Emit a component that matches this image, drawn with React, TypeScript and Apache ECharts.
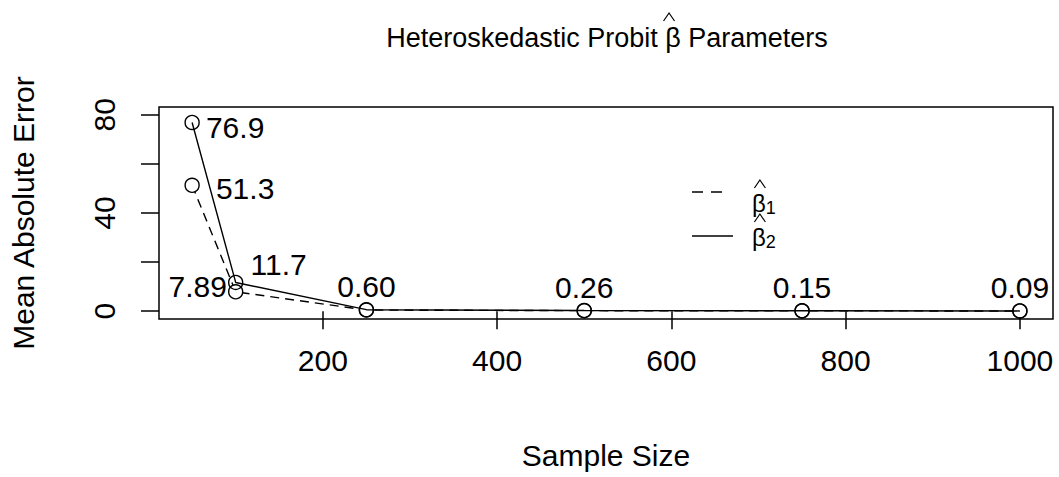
import React, { useEffect, useRef } from "react";
import * as echarts from "echarts";

const sampleSizes = [50, 100, 250, 500, 750, 1000];
const beta1Values = [51.3, 7.89, 0.45, 0.2, 0.12, 0.07];
const beta2Values = [76.9, 11.7, 0.6, 0.26, 0.15, 0.09];
const beta2Labels = ["76.9", "11.7", "0.60", "0.26", "0.15", "0.09"];
const beta1Labels = ["51.3", "7.89", "", "", "", ""];
const xTicks = [200, 400, 600, 800, 1000];
const yTicks = [0, 20, 40, 60, 80];
const yTickLabels = [0, 40, 80];

const FONT = "Liberation Sans";
const TITLE_PREFIX = "Heteroskedastic Probit ";
const TITLE_BETA = "\u03b2";
const TITLE_SUFFIX = " Parameters";
const TITLE_SIZE = 27;

function measure(text: string, font: string): number {
  const c = document.createElement("canvas").getContext("2d");
  if (!c) return text.length * 12;
  c.font = font;
  return c.measureText(text).width;
}

function hat(cx: number, cy: number, w: number, h: number) {
  return {
    type: "polyline",
    shape: { points: [[cx - w / 2, cy + h / 2], [cx, cy - h / 2], [cx + w / 2, cy + h / 2]] },
    style: { stroke: "#000", lineWidth: 1.2, fill: null },
  };
}

export default function App() {
  const ref = useRef<HTMLDivElement>(null);
  useEffect(() => {
    if (!ref.current) return;
    const chart = echarts.init(ref.current, null, { renderer: "svg" });
    const b2Offsets: Record<number, [number, number]> = {
      0: [43, 5],
      1: [43, -18],
    };
    const b1Offsets: Record<number, [number, number]> = {
      0: [53, 3],
      1: [-38, -5],
    };
    const gridLeft = 157, gridTop = 107, gridRight = 1053, gridBottom = 319;
    const titleFont = `${TITLE_SIZE}px "${FONT}"`;
    const titleCenter = (gridLeft + gridRight) / 2 - 3;
    const fullW = measure(TITLE_PREFIX + TITLE_BETA + TITLE_SUFFIX, titleFont);
    const preW = measure(TITLE_PREFIX, titleFont);
    const betaW = measure(TITLE_BETA, titleFont);
    const titleBetaX = titleCenter - fullW / 2 + preW + betaW / 2 + 1;
    const legBetaW = measure("\u03b2", `24px "${FONT}"`);
    chart.setOption({
      animation: false,
      textStyle: { fontFamily: FONT, color: "#000" },
      title: {
        text: TITLE_PREFIX + TITLE_BETA + TITLE_SUFFIX,
        left: titleCenter,
        top: 19,
        textAlign: "center",
        textStyle: { fontFamily: FONT, fontSize: TITLE_SIZE, fontWeight: "normal", color: "#000" },
      },
      grid: {
        left: gridLeft,
        top: gridTop,
        width: gridRight - gridLeft,
        height: gridBottom - gridTop,
        show: true,
        borderColor: "#000",
        borderWidth: 1.5,
        backgroundColor: "transparent",
      },
      xAxis: {
        type: "value",
        min: 12,
        max: 1038,
        name: "Sample Size",
        nameLocation: "middle",
        nameGap: 121,
        nameTextStyle: { fontFamily: FONT, fontSize: 30, color: "#000" },
        axisLine: { show: false },
        splitLine: { show: false },
        axisTick: { show: true, inside: false, length: 18, customValues: xTicks, lineStyle: { color: "#000", width: 1.5 } },
        axisLabel: { customValues: xTicks, formatter: (v: number) => String(v), fontSize: 30, color: "#000", fontFamily: FONT, margin: 26 },
      },
      yAxis: {
        type: "value",
        min: -3.2,
        max: 83.2,
        name: "Mean Absolute Error",
        nameLocation: "middle",
        nameGap: 121,
        nameRotate: 90,
        nameTextStyle: { fontFamily: FONT, fontSize: 30, color: "#000" },
        axisLine: { show: false },
        splitLine: { show: false },
        axisTick: { show: true, inside: false, length: 18, customValues: yTicks, lineStyle: { color: "#000", width: 1.5 } },
        axisLabel: { customValues: yTickLabels, formatter: (v: number) => String(v), fontSize: 30, color: "#000", fontFamily: FONT, rotate: 90, margin: 40 },
      },
      series: [
        {
          name: "beta1",
          type: "line",
          data: sampleSizes.map((x, i) => ({
            value: [x, beta1Values[i]],
            label: beta1Labels[i]
              ? { show: true, position: "inside", offset: b1Offsets[i], formatter: beta1Labels[i] }
              : { show: false },
          })),
          symbol: "circle",
          symbolSize: 14,
          showAllSymbol: true,
          itemStyle: { color: "#fff", borderColor: "#000", borderWidth: 1.4 },
          lineStyle: { color: "#000", width: 1.4, type: [9, 6] },
          label: { fontSize: 30, color: "#000", fontFamily: FONT },
          z: 2,
        },
        {
          name: "beta2",
          type: "line",
          data: sampleSizes.map((x, i) => ({
            value: [x, beta2Values[i]],
            label: {
              show: true,
              position: "inside",
              offset: b2Offsets[i] || [0, -23],
              formatter: beta2Labels[i],
            },
          })),
          symbol: "circle",
          symbolSize: 14,
          showAllSymbol: true,
          itemStyle: { color: "rgba(255,255,255,0)", borderColor: "#000", borderWidth: 1.4 },
          lineStyle: { color: "#000", width: 1.4, type: "solid" },
          label: { fontSize: 30, color: "#000", fontFamily: FONT },
          z: 3,
        },
      ],
      graphic: [
        hat(titleBetaX, 17, 11, 8),
        { type: "line", shape: { x1: 692, y1: 192, x2: 728, y2: 192 }, style: { stroke: "#000", lineWidth: 1.4, lineDash: [11, 8] } },
        { type: "line", shape: { x1: 692, y1: 236, x2: 733, y2: 236 }, style: { stroke: "#000", lineWidth: 1.4 } },
        { type: "text", x: 752, y: 203, style: { text: "\u03b2", font: `24px "${FONT}"`, fill: "#000", textVerticalAlign: "middle" } },
        hat(752 + legBetaW / 2 + 1, 184, 11, 8),
        { type: "text", x: 752 + legBetaW, y: 208, style: { text: "1", font: `18px "${FONT}"`, fill: "#000", textVerticalAlign: "middle" } },
        { type: "text", x: 752, y: 237, style: { text: "\u03b2", font: `24px "${FONT}"`, fill: "#000", textVerticalAlign: "middle" } },
        hat(752 + legBetaW / 2 + 1, 218, 11, 8),
        { type: "text", x: 752 + legBetaW, y: 242, style: { text: "2", font: `18px "${FONT}"`, fill: "#000", textVerticalAlign: "middle" } },
      ],
    });
    return () => chart.dispose();
  }, []);
  return (
    <div
      ref={ref}
      style={{ position: "absolute", left: 0, top: 0, width: 1059, height: 477, background: "#fff" }}
    />
  );
}
